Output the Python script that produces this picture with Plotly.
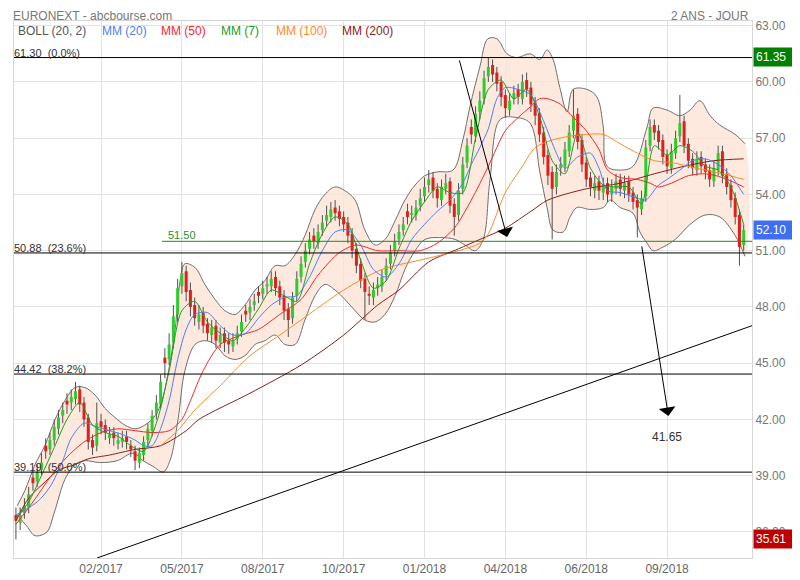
import plotly.graph_objects as go

# ---------------- data ----------------
# one candle per ~3 trading days, index 0..171
opens = [36.9, 36.5, 37.0, 37.3, 38.9, 38.7, 39.3, 40.6, 40.4, 40.9,
         41.5, 42.2, 43.0, 42.9, 43.1, 43.6, 42.9, 42.1, 40.9, 40.6,
         41.9, 41.7, 41.0, 41.3, 40.7, 40.8, 41.1, 40.6, 40.3, 39.7,
         40.1, 40.9, 41.4, 42.3, 42.8, 45.3, 45.2, 46.1, 47.6, 49.1,
         49.9, 48.9, 48.1, 47.2, 47.7, 47.1, 46.5, 47.0, 46.1, 46.6,
         46.2, 45.9, 46.3, 46.7, 47.8, 47.7, 48.1, 48.8, 48.7, 49.1,
         49.1, 49.6, 49.1, 48.6, 47.9, 47.4, 48.6, 49.6, 50.4, 51.1,
         51.8, 51.4, 52.1, 52.6, 52.8, 53.3, 53.1, 52.8, 52.5, 51.9,
         51.1, 50.3, 49.5, 48.7, 48.5, 49.0, 49.1, 49.7, 50.3, 51.0,
         51.6, 52.1, 53.1, 52.9, 52.9, 53.4, 53.9, 54.5, 54.9, 54.3,
         53.7, 54.3, 54.7, 53.5, 52.9, 54.3, 55.7, 57.6, 57.1, 58.4,
         59.1, 60.3, 60.9, 60.5, 60.0, 59.3, 58.5, 59.1, 59.6, 59.1,
         60.1, 59.7, 58.9, 58.3, 57.3, 56.1, 55.2, 54.4, 55.4, 55.5,
         56.3, 57.4, 58.3, 56.9, 55.7, 54.9, 54.2, 54.7, 54.1, 54.6,
         54.0, 54.3, 54.8, 54.2, 54.7, 54.1, 53.7, 53.2, 53.9, 56.6,
         57.7, 57.4, 56.9, 56.1, 55.4, 56.2, 57.1, 57.9, 56.7, 55.9,
         55.3, 56.0, 55.6, 55.3, 54.7, 55.3, 56.3, 55.1, 54.5, 53.8,
         52.9, 51.3]
highs = [37.3, 37.3, 37.8, 38.4, 39.3, 39.6, 40.2, 41.0, 41.3, 42.0,
         42.5, 42.9, 43.4, 43.6, 44.0, 43.8, 43.2, 42.3, 41.2, 42.9,
         42.3, 42.0, 41.6, 41.6, 41.3, 41.4, 41.4, 40.9, 40.6, 40.5,
         41.1, 41.8, 42.5, 43.3, 44.4, 45.8, 46.6, 48.1, 49.5, 50.4,
         50.2, 49.3, 48.5, 48.1, 48.0, 47.4, 47.3, 47.3, 46.9, 46.9,
         46.6, 46.6, 47.0, 47.6, 48.1, 48.4, 48.7, 49.1, 49.4, 49.6,
         49.9, 49.9, 49.4, 48.9, 48.2, 48.8, 49.9, 50.7, 51.4, 52.0,
         52.2, 52.4, 52.9, 53.4, 53.6, 53.7, 53.4, 53.1, 52.8, 52.2,
         51.4, 50.6, 49.8, 49.1, 49.3, 49.6, 50.0, 50.6, 51.3, 51.9,
         52.4, 52.8, 53.5, 53.4, 53.7, 54.3, 54.9, 55.3, 55.2, 54.6,
         54.8, 55.1, 54.9, 53.8, 54.6, 56.0, 57.0, 58.0, 58.7, 59.5,
         60.6, 61.3, 61.2, 60.8, 60.3, 59.6, 59.4, 59.8, 59.9, 60.4,
         60.5, 60.0, 59.2, 58.6, 57.6, 56.4, 55.5, 55.6, 56.0, 56.8,
         57.7, 59.6, 58.6, 57.2, 56.0, 55.2, 55.0, 55.0, 54.9, 54.9,
         54.8, 55.1, 55.1, 55.0, 55.0, 54.4, 54.0, 54.2, 56.9, 58.0,
         58.0, 57.7, 57.2, 56.4, 56.7, 57.4, 59.3, 58.2, 57.0, 56.2,
         56.3, 56.3, 55.9, 55.6, 55.8, 56.6, 56.6, 55.4, 54.8, 54.1,
         53.2, 52.4]
lows = [35.6, 36.1, 36.7, 37.0, 38.2, 38.4, 39.0, 39.9, 40.1, 40.6,
        41.2, 41.8, 42.3, 42.5, 42.8, 42.4, 41.6, 40.4, 40.1, 40.3,
        41.2, 40.9, 40.7, 40.6, 40.4, 40.5, 40.4, 40.0, 39.3, 39.4,
        39.8, 40.6, 41.1, 42.0, 42.6, 44.2, 44.9, 45.8, 47.2, 48.7,
        48.3, 47.5, 47.0, 46.8, 46.6, 46.2, 46.1, 45.8, 45.8, 45.6,
        45.5, 45.6, 46.0, 46.4, 47.2, 47.3, 47.8, 48.2, 48.4, 48.7,
        48.8, 48.6, 48.1, 47.3, 46.4, 47.1, 48.3, 49.3, 50.1, 50.8,
        51.1, 51.1, 51.8, 52.3, 52.5, 52.6, 52.3, 52.0, 51.4, 50.6,
        49.8, 49.0, 47.3, 48.1, 48.1, 48.6, 48.8, 49.4, 50.0, 50.7,
        51.3, 51.8, 52.4, 52.5, 52.6, 53.1, 53.6, 54.1, 53.8, 53.3,
        53.4, 54.0, 53.0, 51.8, 52.6, 54.0, 55.4, 56.7, 56.8, 58.0,
        58.8, 60.0, 60.0, 59.5, 58.7, 58.1, 58.2, 58.8, 58.8, 58.8,
        59.2, 58.4, 57.7, 56.8, 55.6, 54.5, 51.6, 54.0, 55.0, 55.2,
        56.0, 57.0, 56.4, 55.2, 54.4, 53.9, 53.8, 53.7, 53.7, 53.6,
        53.6, 54.0, 53.9, 53.8, 53.6, 53.2, 51.7, 52.9, 53.6, 56.3,
        56.9, 56.4, 55.6, 55.1, 55.1, 55.9, 56.8, 56.2, 55.4, 55.0,
        55.0, 55.1, 54.8, 54.4, 54.4, 55.0, 54.6, 54.0, 53.3, 52.4,
        50.2, 51.0]
closes = [36.6, 36.9, 37.4, 38.0, 38.6, 39.2, 39.7, 40.3, 40.9, 41.6,
          42.1, 42.5, 42.8, 43.2, 43.5, 42.8, 42.0, 40.8, 40.5, 41.8,
          41.6, 41.3, 41.2, 41.0, 40.9, 41.0, 40.8, 40.4, 39.8, 40.2,
          40.8, 41.5, 42.2, 42.9, 44.0, 45.0, 46.0, 47.5, 49.0, 49.8,
          48.8, 48.0, 47.4, 47.6, 47.0, 46.6, 46.9, 46.2, 46.5, 46.1,
          46.0, 46.2, 46.6, 47.2, 47.6, 48.0, 48.3, 48.6, 49.0, 49.2,
          49.5, 49.0, 48.5, 47.8, 47.3, 48.5, 49.5, 50.3, 51.0, 51.6,
          51.5, 52.0, 52.5, 52.9, 53.2, 53.0, 52.7, 52.4, 51.8, 51.0,
          50.2, 49.4, 48.8, 48.6, 48.9, 49.2, 49.6, 50.2, 50.9, 51.5,
          52.0, 52.4, 52.8, 53.0, 53.3, 53.8, 54.4, 54.8, 54.2, 53.8,
          54.4, 54.6, 53.4, 52.8, 54.2, 55.6, 56.6, 57.2, 58.3, 59.0,
          60.2, 60.8, 60.4, 59.9, 59.2, 58.6, 59.0, 59.4, 59.2, 60.0,
          59.6, 58.8, 58.2, 57.2, 56.0, 55.0, 54.3, 55.2, 55.6, 56.4,
          57.3, 58.2, 56.8, 55.6, 54.8, 54.4, 54.6, 54.2, 54.5, 54.0,
          54.4, 54.7, 54.3, 54.6, 54.0, 53.6, 53.3, 53.8, 56.5, 57.6,
          57.3, 56.8, 56.0, 55.5, 56.3, 57.0, 57.8, 56.6, 55.8, 55.4,
          55.9, 55.5, 55.2, 54.8, 55.4, 56.2, 55.0, 54.4, 53.7, 52.8,
          51.2, 52.1]

# Bollinger (20, 2) envelope
boll_up_x = [0.3, 2.1, 4.5, 6.8, 9.2, 11.5, 13.9, 16.2, 18.6, 20.9, 23.3, 25.6, 28, 30.3, 32.7,
             34.3, 35.7, 37.4, 38.6, 39.7, 42.1, 44.4, 46.8, 49.1, 51.5, 53.8, 56.2, 58.5, 60.9,
             63.2, 65.6, 67.9, 70.3, 72.6, 75, 77.3, 79.7, 82, 84.4, 86.7, 89.1, 91.4, 93.8, 96.1,
             98.9, 102.7, 105, 106.7, 109, 110.9, 113, 115.4, 117.7, 120.8, 123.1, 124.8, 126.2,
             127.8, 129.5, 130.9, 134.2, 136.5, 138, 138.9, 142, 145, 148.3, 149.7, 153, 156,
             158.4, 160.7, 163.1, 165.4, 169, 171.3]
boll_up = [37.4, 38.2, 39.6, 40.6, 42.0, 43.0, 43.7, 43.7, 43.3, 42.6, 42.1, 41.7, 41.5, 41.7, 42.2,
           43.0, 44.4, 46.8, 49.4, 50.3, 50.1, 49.2, 48.4, 47.8, 47.6, 48.1, 48.9, 49.4, 50.2,
           50.2, 50.8, 51.8, 53.2, 54.0, 54.4, 54.2, 53.7, 52.1, 51.3, 51.6, 52.6, 53.7, 54.5, 55.0,
           55.2, 55.3, 56.9, 58.7, 60.8, 62.3, 62.3, 61.5, 61.3, 61.5, 61.2, 61.7, 61.2,
           59.7, 58.4, 59.6, 59.6, 59.2, 57.6, 55.5, 55.3, 55.5, 57.6, 58.6, 58.5, 58.2,
           58.5, 59.0, 58.2, 57.7, 57.2, 56.7]
boll_lo_x = [0.3, 2.6, 4.5, 7.3, 8.7, 9.9, 11.5, 13.9, 16.2, 19.7, 23.8, 27.5, 29.9, 32.2, 34.6,
             36.2, 38.1, 39.7, 42.1, 44.4, 46.8, 49.1, 51.5, 53.8, 56.2, 58.5, 60.9, 63.2, 65.6,
             67.9, 70.3, 72.6, 75, 77.3, 79.7, 82, 84.4, 86.7, 89.1, 91.4, 93.8, 96.1, 99.6, 103.2,
             105.5, 107.9, 109.8, 111.4, 113.8, 117.7, 120.8, 123.1, 124.8, 126.2, 128.6, 130.2,
             131.8, 134.9, 138, 139.6, 142, 145, 146.6, 148.3, 149.7, 152.1, 154.9, 158.4, 161.9,
             165.4, 169, 171.3]
boll_lo = [36.9, 36.3, 35.8, 36.0, 36.8, 37.7, 38.8, 39.6, 39.8, 39.7, 39.8, 40.2, 39.8, 39.5, 39.2,
           39.8, 42.0, 44.6, 46.0, 46.2, 46.0, 45.4, 45.2, 45.4, 46.0, 46.2, 46.5, 46.0, 46.0,
           47.3, 48.6, 49.2, 48.9, 48.4, 47.8, 47.3, 47.2, 47.6, 48.6, 50.0, 51.0, 51.6, 51.7, 51.6,
           51.3, 51.0, 51.6, 54.8, 58.0, 58.1, 57.8, 55.2, 53.3, 52.1, 52.0, 52.8,
           53.3, 53.2, 53.3, 53.7, 53.3, 53.0, 52.0, 51.4, 51.0, 51.2, 51.6, 52.4, 52.9,
           52.8, 51.8, 50.7]

# moving averages
mm7_x = [0, 3, 6, 9, 12, 15, 18, 21, 24, 27, 30, 33, 36, 39, 42, 45, 48, 51, 54, 57, 60, 63, 66,
         69, 72, 75, 78, 81, 84, 87, 90, 93, 96, 99, 102, 105, 108, 111, 114, 117, 120, 123, 126,
         129, 132, 135, 138, 141, 144, 147, 150, 153, 156, 159, 162, 165, 168, 171]
mm7 = [36.7, 37.6, 39.0, 40.5, 42.0, 42.9, 41.7, 41.3, 41.1, 40.6, 40.3, 41.8, 44.6, 47.8, 48.3,
       47.2, 46.6, 46.2, 46.9, 47.9, 48.9, 48.6, 48.3, 50.3, 51.9, 52.8, 52.4, 50.5, 49.0, 49.4,
       51.1, 52.6, 53.6, 54.4, 54.1, 54.1, 57.0, 59.6, 60.1, 59.1, 59.6, 58.2, 55.8, 55.1, 57.3,
       55.4, 54.5, 54.4, 54.4, 53.5, 56.6, 56.1, 56.6, 56.3, 55.5, 55.3, 54.4, 52.4]
mm20_x = [0, 5, 8, 11, 13, 16, 19, 22, 25, 28, 30, 32, 34, 36, 38, 40, 42, 45, 48, 51, 54, 57,
          60, 63, 66, 69, 72, 75, 78, 81, 84, 87, 90, 93, 96, 99, 102, 105, 107, 109, 111, 113,
          115, 118, 121, 124, 127, 129, 132, 135, 137, 139, 142, 146, 148, 151, 153, 156, 159,
          162, 165, 168, 171]
mm20 = [36.9, 37.6, 38.4, 39.8, 41.0, 41.8, 41.6, 41.4, 41.2, 40.9, 40.6, 40.6, 41.5, 43.0, 45.2,
        46.8, 47.6, 47.7, 47.0, 46.5, 46.6, 47.4, 48.1, 48.5, 48.6, 49.6, 51.0, 52.0, 52.1, 51.3,
        50.0, 49.6, 50.3, 51.6, 52.4, 53.1, 53.7, 54.6, 55.6, 56.5, 57.5, 59.1, 59.7, 59.6, 59.3,
        57.9, 56.2, 55.4, 56.0, 56.2, 55.4, 54.2, 54.1, 53.8, 53.7, 54.5, 54.8, 55.3, 55.8, 55.9,
        55.6, 55.0, 54.0]
mm50_x = [0, 4, 8, 12, 16, 20, 24, 28, 32, 36, 39, 41, 44, 48, 53, 57, 62, 67, 71, 76, 80, 85,
          90, 95, 99, 103, 107, 111, 115, 118, 121, 123, 125, 128, 131, 134, 137, 139, 142, 146,
          149, 151, 154, 158, 162, 166, 171]
mm50 = [36.4, 37.6, 38.9, 40.0, 40.8, 41.3, 41.5, 41.4, 41.3, 41.4, 42.0, 43.0, 44.6, 46.0, 46.5,
        46.8, 47.6, 48.4, 49.7, 50.9, 51.3, 51.0, 51.0, 51.0, 51.4, 52.2, 53.7, 55.5, 57.4, 58.1,
        58.7, 59.1, 59.1, 58.8, 58.1, 57.4, 56.4, 55.3, 54.9, 54.8, 54.6, 54.4, 54.6, 55.0, 55.1,
        54.9, 54.4]
mm100_x = [34, 38, 42, 48, 55, 62, 67, 77, 86, 95, 104, 109, 111, 115, 119, 122, 126, 130, 134,
           138, 142, 146, 150, 154, 160, 166, 171]
mm100 = [40.6, 41.4, 42.5, 43.8, 45.4, 46.5, 47.3, 48.9, 50.0, 50.5, 51.0, 51.4, 51.9, 54.1, 55.5,
         56.5, 56.9, 57.1, 57.2, 57.2, 56.7, 56.2, 55.8, 55.7, 55.4, 55.1, 54.8]
mm200_x = [0, 3, 7, 10, 14, 17, 22, 28, 34, 40, 43, 55, 67, 77, 85, 90, 97, 104, 109, 115, 121,
           125, 134, 142, 150, 157, 164, 171]
mm200 = [36.6, 37.8, 38.7, 39.3, 39.6, 39.9, 40.1, 40.4, 40.6, 41.4, 42.0, 43.4, 44.9, 46.5, 48.1,
         48.9, 50.4, 51.1, 51.6, 52.2, 53.1, 53.7, 54.3, 54.6, 55.1, 55.5, 55.8, 55.9]

# axis ticks
x_tick_pos = [20, 39, 58, 77, 96, 115, 134, 153]
x_tick_text = ['02/2017', '05/2017', '08/2017', '10/2017', '01/2018', '04/2018', '06/2018', '09/2018']
y_ticks = [36, 39, 42, 45, 48, 51, 54, 57, 60, 63]

# drawn levels
fib_levels = [61.30, 50.88, 44.42, 39.19]
fib_labels = ['61.30  (0.0%)', '50.88  (23.6%)', '44.42  (38.2%)', '39.19  (50.0%)']
green_level = 51.50
trend_pts = ([19.06, 172.95], [34.61, 47.0])
arrow1 = (104.1, 61.23, 115.4, 51.73)   # tail x, tail y, tip x, tip y
arrow2 = (147.0, 51.31, 153.3, 42.19)
target_label = 41.65
price_boxes = [(61.35, '#008000'), (52.10, '#3f6ef2'), (35.61, '#c00000')]

# ---------------- figure ----------------
# the page body has an 8px default margin, so the figure is 792x572 placed at (8, 8)
W, H = 792, 572
ML, MT, MR, MB = 6, 13, 48, 22
PW = W - ML - MR
PH = H - MT - MB
GREEN = '#2ecc2e'
RED = '#e01e1e'
idx = list(range(len(closes)))
fig = go.Figure()

# Bollinger fill
poly_x = boll_up_x + boll_lo_x[::-1]
poly_y = boll_up + boll_lo[::-1]
fig.add_trace(go.Scatter(x=poly_x, y=poly_y, mode='lines', fill='toself',
                         fillcolor='rgba(252,228,212,0.8)', line=dict(width=0, shape='spline'),
                         hoverinfo='skip'))
for bx, by in ((boll_up_x, boll_up), (boll_lo_x, boll_lo)):
    fig.add_trace(go.Scatter(x=bx, y=by, mode='lines',
                             line=dict(color='#6f6f6f', width=1, shape='spline')))

# wicks
wx, wy = [], []
for i in idx:
    wx += [i, i, None]
    wy += [lows[i], highs[i], None]
fig.add_trace(go.Scatter(x=wx, y=wy, mode='lines', line=dict(color='#505050', width=1),
                         hoverinfo='skip'))
# bodies (thick vertical segments, one trace per colour)
for up, col in ((True, GREEN), (False, RED)):
    bx, by = [], []
    for i in idx:
        o, c = opens[i], closes[i]
        if (c >= o) == up:
            lo_b, hi_b = min(o, c), max(o, c)
            if hi_b - lo_b < 0.06:
                hi_b = lo_b + 0.06
            bx += [i, i, None]
            by += [lo_b, hi_b, None]
    fig.add_trace(go.Scatter(x=bx, y=by, mode='lines', line=dict(color=col, width=3),
                             hoverinfo='skip'))

# moving averages
for mx, my, col in ((mm200_x, mm200, '#8b1c1c'), (mm100_x, mm100, '#ff8a2a'),
                    (mm50_x, mm50, '#f22a2a'), (mm20_x, mm20, '#4d7ff5'),
                    (mm7_x, mm7, '#239a23')):
    fig.add_trace(go.Scatter(x=mx, y=my, mode='lines',
                             line=dict(color=col, width=1, shape='spline', smoothing=0.8)))

shapes = []
for lv in fib_levels:
    shapes.append(dict(type='line', xref='paper', x0=0, x1=1, yref='y', y0=lv, y1=lv,
                       line=dict(color='black', width=1)))
shapes.append(dict(type='line', xref='x', x0=34.3, x1=172.95, yref='y', y0=green_level,
                   y1=green_level, line=dict(color='#1f8a1f', width=1)))
shapes.append(dict(type='line', xref='x', yref='y', x0=trend_pts[0][0], x1=trend_pts[0][1],
                   y0=trend_pts[1][0], y1=trend_pts[1][1], line=dict(color='black', width=1)))

ann = []
for lv, lab in zip(fib_levels, fib_labels):
    ann.append(dict(xref='paper', x=0, xanchor='left', yref='y', y=lv, yanchor='bottom',
                    text=lab.replace(' ', '\u00a0'), showarrow=False, xshift=-2, yshift=-3,
                    font=dict(size=11, color='#333333')))
ann.append(dict(xref='x', x=35.3, xanchor='left', yref='y', y=green_level, yanchor='bottom',
                text='51.50', showarrow=False, yshift=-2, font=dict(size=11, color='#2a8f2a')))
for tx, ty, hx, hy in (arrow1, arrow2):
    ann.append(dict(xref='x', yref='y', x=hx, y=hy, axref='x', ayref='y', ax=tx, ay=ty,
                    text='', showarrow=True, arrowhead=1, arrowsize=2.8, arrowwidth=1,
                    arrowcolor='black'))
ann.append(dict(xref='x', yref='y', x=153.0, y=target_label, yshift=-11, text='41.65',
                showarrow=False, font=dict(size=12, color='#333333')))
for val, col in price_boxes:
    ann.append(dict(xref='paper', x=1, xanchor='left', xshift=1, yref='y', y=val,
                    text='%.2f' % val, showarrow=False, bgcolor=col, width=42, align='left',
                    borderpad=2, font=dict(size=12, color='white')))
ann.append(dict(xref='paper', x=0, xanchor='left', yref='paper', y=1 + MT / PH,
                yanchor='top', text='EURONEXT - abcbourse.com', showarrow=False, xshift=-2,
                borderpad=0, font=dict(size=12, color='#777777')))
ann.append(dict(xref='paper', x=1, xanchor='right', yref='paper', y=1 + MT / PH,
                yanchor='top', text='2 ANS - JOUR', showarrow=False, xshift=-2,
                borderpad=0, font=dict(size=12, color='#777777')))
legend_items = [('BOLL (20, 2)', '#555555', 19), ('MM (20)', '#4d7ff5', 103),
                ('MM (50)', '#f22a2a', 162), ('MM (7)', '#239a23', 222),
                ('MM (100)', '#ff8a2a', 277), ('MM (200)', '#8b1c1c', 343)]
for txt, col, px in legend_items:
    ann.append(dict(xref='paper', x=(px - 14) / PW, xanchor='left', yref='paper',
                    y=1 - 10 / PH, yanchor='middle', text=txt, showarrow=False, xshift=-2,
                    borderpad=0, font=dict(size=12, color=col)))

fig.update_layout(
    width=W, height=H, margin=dict(l=ML, r=MR, t=MT, b=MB, autoexpand=False),
    paper_bgcolor='white', plot_bgcolor='white', showlegend=False,
    font=dict(family='Arial, Liberation Sans, sans-serif'),
    shapes=shapes, annotations=ann,
    xaxis=dict(range=[-0.45, 172.95], tickvals=x_tick_pos, ticktext=x_tick_text,
               showgrid=True, gridcolor='#e2e2e2', gridwidth=1, showline=True,
               linecolor='#d6d6d6', mirror=True, ticks='', zeroline=False, automargin=False,
               tickfont=dict(size=12, color='#666666')),
    yaxis=dict(side='right', range=[34.61, 63.25], tickvals=y_ticks,
               ticktext=['%.2f' % v for v in y_ticks], showgrid=True, gridcolor='#e2e2e2',
               showline=True, linecolor='#d6d6d6', mirror=True, ticks='', zeroline=False,
               automargin=False, tickfont=dict(size=12, color='#777777')),
)
fig.write_html('out.html')
